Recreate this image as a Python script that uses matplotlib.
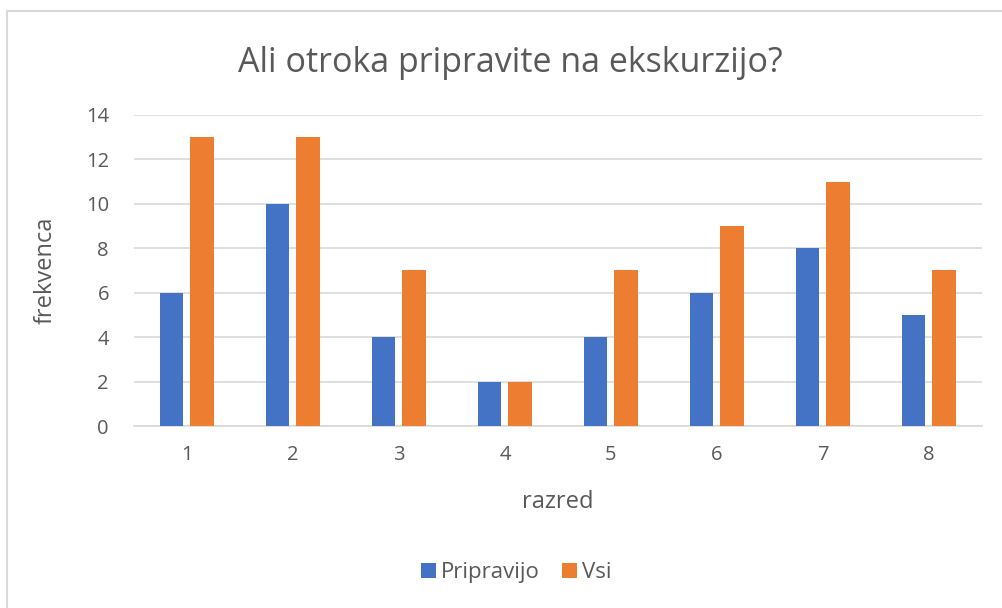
import numpy as np
import matplotlib.pyplot as plt
from matplotlib.patches import Rectangle

categories = ['1', '2', '3', '4', '5', '6', '7', '8']
pripravijo = [6, 10, 4, 2, 4, 6, 8, 5]
vsi = [13, 13, 7, 2, 7, 9, 11, 7]

plt.rcParams['font.family'] = ['Open Sans', 'DejaVu Sans']
text_color = '#595959'

fig = plt.figure(figsize=(10.02, 6.08), dpi=100)
# outer chart border
fig.patches.append(Rectangle((7 / 1002, -0.01), 1.0, 1 - 11 / 608 + 0.01,
                             transform=fig.transFigure, fill=False,
                             edgecolor='#D9D9D9', linewidth=1.5))

ax = fig.add_axes([0.1337, 0.2993, 0.8463, 0.5116])
x = np.arange(1, len(categories) + 1)
w = 0.226
ax.bar(x - 0.146, pripravijo, w, color='#4472C4', label='Pripravijo', zorder=3)
ax.bar(x + 0.146, vsi, w, color='#ED7D31', label='Vsi', zorder=3)

ax.set_xlim(0.5, 8.5)
ax.set_ylim(0, 14)
ax.set_yticks(range(0, 15, 2))
ax.set_xticks(x)
ax.set_xticklabels(categories)
ax.grid(axis='y', color='#D9D9D9', linewidth=1.2, zorder=0)
for s in ['top', 'right', 'left']:
    ax.spines[s].set_visible(False)
ax.spines['bottom'].set_color('#D9D9D9')
ax.spines['bottom'].set_linewidth(1.2)
ax.tick_params(length=0, labelsize=14.5, colors=text_color, pad=14)
ax.tick_params(axis='y', pad=18)

ax.set_xlabel('razred', fontsize=17, color=text_color, labelpad=18)
ax.set_ylabel('frekvenca', fontsize=17, color=text_color, labelpad=20)
fig.text(0.509, 0.896, 'Ali otroka pripravite na ekskurzijo?', ha='center',
         va='center', fontsize=24.5, color=text_color)

fig.legend(loc='center', bbox_to_anchor=(0.515, 0.0576), ncol=2, frameon=False,
           fontsize=16, labelcolor=text_color, handlelength=0.7,
           handleheight=0.7, columnspacing=1.0, handletextpad=0.2)

plt.savefig('out.png', dpi=100)
